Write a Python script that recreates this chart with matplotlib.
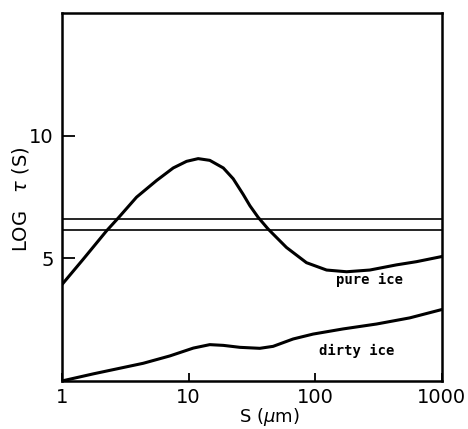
import matplotlib.pyplot as plt
from matplotlib.ticker import FixedLocator, FixedFormatter

# values (S in micrometres, log tau)
pure_s = [1, 1.47, 2.25, 2.78, 3.88, 5.59, 7.56, 9.64, 11.9, 14.7, 18.8, 22.5, 27, 30.5,
          35.4, 42.5, 59.3, 85.3, 123, 177, 270, 438, 630, 1000]
pure_tau = [3.93, 4.96, 6.12, 6.64, 7.49, 8.17, 8.68, 8.95, 9.06, 8.99, 8.68, 8.24, 7.6, 7.14,
            6.67, 6.19, 5.44, 4.82, 4.52, 4.45, 4.52, 4.73, 4.86, 5.07]

dirty_s = [1, 1.77, 4.38, 7.11, 10.9, 14.7, 18.8, 25.4, 36.5, 46.5, 66.9, 96.2, 166, 305, 558, 1000]
dirty_tau = [0.0, 0.29, 0.72, 1.02, 1.34, 1.48, 1.45, 1.37, 1.33, 1.41, 1.71, 1.91, 2.12, 2.32, 2.57, 2.91]

limits = [6.62, 6.16]

xticks = [1, 10, 100, 1000]
xticklabels = ['1', '10', '100', '1000']
yticks = [5, 10]

fig = plt.figure(figsize=(4.68, 4.29), dpi=100)
ax = fig.add_axes([0.1325, 0.112, 0.8115, 0.858])

ax.plot(pure_s, pure_tau, color='black', lw=2.2, solid_joinstyle='round')
ax.plot(dirty_s, dirty_tau, color='black', lw=2.2, solid_joinstyle='round')
for h in limits:
	ax.axhline(h, color='black', lw=1.2)

ax.set_xscale('log')
ax.set_xlim(1, 1000)
ax.set_ylim(0, 15)

ax.xaxis.set_major_locator(FixedLocator(xticks))
ax.xaxis.set_major_formatter(FixedFormatter(xticklabels))
ax.xaxis.set_minor_locator(FixedLocator([]))
ax.set_yticks(yticks)

ax.tick_params(axis='x', direction='in', length=6, width=1.3, labelsize=14, pad=5)
ax.tick_params(axis='y', direction='in', length=9, width=1.3, labelsize=14, pad=6)
for sp in ax.spines.values():
	sp.set_linewidth(1.8)

fig.text(269 / 468, 1 - 417 / 429, 'S ($\\mu$m)', fontsize=13, ha='center', va='center')
fig.text(21 / 468, 1 - 199 / 429, 'LOG   $\\tau$ (S)', fontsize=14, rotation=90,
         ha='center', va='center')

ax.text(270, 4.1, 'pure ice', fontsize=10, ha='center', va='center',
        family='DejaVu Sans Mono', fontweight='bold')
ax.text(213, 1.23, 'dirty ice', fontsize=10, ha='center', va='center',
        family='DejaVu Sans Mono', fontweight='bold')

fig.savefig('out.png', dpi=100)
